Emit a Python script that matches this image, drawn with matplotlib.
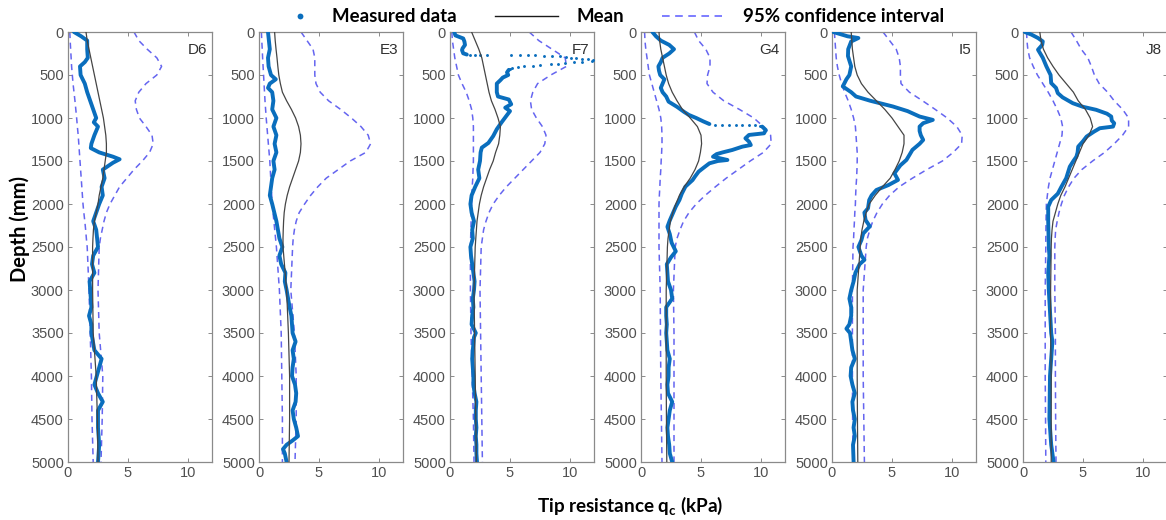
import numpy as np
import matplotlib.pyplot as plt
from matplotlib.lines import Line2D

# depth grid (mm) shared by the mean / confidence curves
CURVE_Z = [0, 100, 200, 300, 400, 500, 600, 700, 800, 900, 1000, 1100, 1200,
           1300, 1400, 1500, 1600, 1700, 1800, 1900, 2000, 2100, 2200, 2300,
           2400, 2500, 3000, 3500, 4000, 4500, 5000]

PANELS = ["D6", "E3", "F7", "G4", "I5", "J8"]

# ---- D6 ----
D6_MEAN = [1.5, 1.6, 1.75, 1.9, 2.05, 2.2, 2.35, 2.5, 2.65, 2.8, 2.95, 3.05, 3.15,
           3.2, 3.2, 3.1, 3.0, 2.9, 2.75, 2.6, 2.5, 2.35, 2.2, 2.12, 2.08, 2.05,
           2.05, 2.1, 2.35, 2.45, 2.5]
D6_LO = [0.15, 0.18, 0.22, 0.26, 0.3, 0.36, 0.42, 0.5, 0.58, 0.65, 0.72, 0.78, 0.85,
         0.9, 0.95, 1.0, 1.05, 1.1, 1.15, 1.2, 1.25, 1.32, 1.4, 1.47, 1.53, 1.6,
         1.75, 1.85, 1.95, 2.0, 2.1]
D6_HI = [5.5, 5.9, 6.6, 7.4, 7.8, 7.4, 6.5, 5.9, 5.6, 5.7, 5.95, 6.5, 7.0,
         7.1, 6.8, 6.2, 5.5, 4.9, 4.3, 3.9, 3.5, 3.2, 3.0, 2.85, 2.7, 2.6,
         2.5, 2.6, 2.9, 2.85, 2.75]
D6_MEAS_Z = [0, 50, 100, 200, 300, 350, 400, 500, 600, 700, 800, 900, 1000, 1050,
             1100, 1200, 1300, 1350, 1400, 1450, 1480, 1520, 1600, 1700, 1800, 1900,
             2000, 2200, 2300, 2500, 2600, 2700, 2800, 2900, 3000, 3200, 3300, 3400,
             3500, 3700, 3800, 3900, 4000, 4100, 4200, 4300, 4400, 4600, 4800, 5000]
D6_MEAS_Q = [0.5, 1.1, 1.6, 1.6, 1.65, 1.4, 1.0, 1.05, 1.4, 1.6, 1.85, 2.1, 2.35, 2.15,
             2.5, 2.2, 1.95, 1.9, 2.6, 3.75, 4.3, 3.75, 2.9, 3.05, 2.8, 2.9,
             2.6, 2.1, 2.35, 2.5, 2.1, 2.0, 2.2, 1.8, 1.85, 1.95, 1.75, 1.95,
             1.95, 2.2, 2.8, 2.6, 2.4, 2.2, 2.5, 2.9, 2.5, 2.5, 2.6, 2.5]

# ---- E3 ----
E3_MEAN = [1.3, 1.35, 1.42, 1.5, 1.57, 1.65, 1.78, 1.95, 2.3, 2.7, 3.05, 3.3, 3.45,
           3.5, 3.45, 3.3, 3.05, 2.8, 2.55, 2.35, 2.2, 2.1, 2.05, 2.02, 2.0, 2.0,
           2.3, 2.45, 2.55, 2.55, 2.5]
E3_LO = [0.2, 0.23, 0.27, 0.3, 0.34, 0.38, 0.42, 0.46, 0.5, 0.55, 0.6, 0.66, 0.72,
         0.78, 0.84, 0.9, 0.94, 0.98, 1.02, 1.06, 1.1, 1.17, 1.24, 1.31, 1.38, 1.45,
         1.7, 1.85, 1.9, 1.95, 1.95]
E3_HI = [3.5, 4.0, 4.5, 4.65, 4.65, 4.65, 4.75, 5.1, 5.8, 6.8, 7.7, 8.5, 9.1,
         9.3, 8.9, 7.6, 6.6, 5.6, 4.9, 4.3, 3.8, 3.35, 3.1, 2.95, 2.85, 2.8,
         2.65, 2.95, 3.1, 3.1, 3.0]
E3_MEAS_Z = [0, 200, 300, 400, 500, 550, 600, 650, 700, 800, 900, 1000, 1100, 1200,
             1300, 1400, 1500, 1600, 1700, 1800, 1900, 2000, 2200, 2400, 2500, 2600,
             2700, 2800, 2900, 3000, 3200, 3300, 3500, 3600, 3700, 3800, 3900, 4000,
             4100, 4200, 4300, 4400, 4500, 4600, 4700, 4750, 4800, 4850, 4900, 5000]
E3_MEAS_Q = [0.75, 0.9, 0.75, 0.8, 1.0, 1.4, 0.9, 0.75, 1.1, 1.2, 1.1, 1.45, 1.2, 1.45,
             1.3, 1.45, 1.2, 1.3, 1.1, 1.0, 0.9, 1.1, 1.45, 1.7, 1.95, 1.7,
             1.85, 2.2, 2.15, 2.3, 2.55, 2.7, 2.8, 3.05, 2.8, 2.9, 2.8, 2.75,
             3.0, 3.1, 3.05, 2.8, 2.9, 3.1, 3.25, 2.8, 2.3, 2.0, 2.15, 2.3]

# ---- F7 ----
F7_MEAN = [1.8, 2.1, 2.4, 2.65, 2.8, 2.95, 3.1, 3.25, 3.45, 3.75, 4.0, 4.2, 4.15,
           4.05, 3.8, 3.6, 3.3, 3.05, 2.8, 2.6, 2.45, 2.35, 2.25, 2.2, 2.15, 2.1,
           2.0, 2.05, 2.1, 2.15, 2.2]
F7_LO = [0.15, 0.2, 0.3, 0.4, 0.55, 0.7, 1.0, 1.35, 1.6, 1.8, 1.9, 1.95, 1.95,
         1.95, 1.95, 1.95, 1.92, 1.9, 1.85, 1.82, 1.8, 1.78, 1.76, 1.74, 1.72, 1.7,
         1.7, 1.75, 1.85, 1.95, 2.0]
F7_HI = [6.6, 7.4, 8.5, 9.6, 9.7, 8.4, 7.3, 6.9, 6.7, 6.8, 7.2, 7.7, 8.0,
         7.9, 7.5, 6.8, 6.1, 5.4, 4.7, 4.1, 3.6, 3.25, 3.0, 2.8, 2.7, 2.6,
         2.5, 2.55, 2.6, 2.65, 2.7]
F7_MEAS_Z = [0, 40, 75, 110, 150, 190, 210, 248, 262, np.nan,
             440, 470, 500, 530, 560, 600, 650, 700, 750, 785, 840, 880, 920, 975,
             1050, 1130, 1210, 1290, 1345, 1400, 1500, 1600, 1700, 1800, 1900, 2000,
             2100, 2200, 2300, 2400, 2500, 2600, 2700, 2800, 2900, 3000, 3100, 3200,
             3300, 3400, 3500, 3550, 3700, 3800, 3900, 4000, 4100, 4200, 4300, 4400,
             4500, 4600, 4700, 4800, 4900, 5000]
F7_MEAS_Q = [0.35, 0.45, 1.1, 1.2, 1.25, 1.05, 1.0, 1.1, 1.4, np.nan,
             4.9, 4.75, 4.85, 4.4, 4.2, 3.9, 3.9, 3.9, 4.0, 4.9, 5.1, 4.6, 5.0, 4.7,
             4.3, 3.9, 3.6, 3.2, 2.65, 2.55, 2.5, 2.35, 2.45, 2.1, 1.8, 1.7,
             1.8, 2.0, 1.85, 1.9, 1.7, 1.75, 1.85, 1.95, 2.05, 2.0, 1.9, 1.95,
             1.85, 1.8, 2.15, 2.0, 1.9, 1.85, 1.9, 1.95, 1.95, 2.05, 2.2, 2.15,
             2.15, 2.2, 2.15, 2.2, 2.2, 2.25]
# sparse readings where the cone resistance jumped off scale
F7_DOT_Z = [266, 266, 267, 267, 270, 271, 272, 273, 275, 278, 282, 290, 300, 305,
            310, 318, 325, 340, 345, 352, 360, 368, 375, 385, 392, 400, 410, 420, 430]
F7_DOT_Q = [1.7, 2.1, 2.5, 3.05, 5.1, 5.8, 6.5, 7.1, 7.8, 8.5, 9.2, 9.7, 10.1, 10.5,
            11.0, 11.5, 11.9, 11.8, 11.0, 10.3, 9.6, 9.0, 8.4, 7.5, 6.9, 6.2, 5.7, 5.2, 5.0]

# ---- G4 ----
G4_MEAN = [1.5, 1.55, 1.65, 1.8, 1.95, 2.1, 2.3, 2.6, 3.0, 3.45, 4.1, 4.7, 5.0,
           5.05, 4.95, 4.8, 4.5, 4.1, 3.6, 3.2, 2.9, 2.65, 2.45, 2.35, 2.25, 2.2,
           2.1, 2.1, 2.1, 2.12, 2.15]
G4_LO = [0.3, 0.33, 0.4, 0.5, 0.6, 0.7, 0.9, 1.1, 1.3, 1.5, 1.65, 1.72, 1.75,
         1.75, 1.72, 1.68, 1.65, 1.6, 1.57, 1.53, 1.5, 1.5, 1.5, 1.5, 1.5, 1.5,
         1.6, 1.62, 1.65, 1.7, 1.75]
G4_HI = [4.45, 4.8, 5.4, 5.75, 5.75, 5.55, 5.5, 6.0, 6.9, 8.2, 9.4, 10.2, 10.8,
         10.85, 10.2, 9.1, 8.1, 7.1, 6.2, 5.35, 4.6, 4.0, 3.55, 3.25, 3.0, 2.85,
         2.7, 2.75, 2.75, 2.75, 2.75]
G4_MEAS_Z = [0, 50, 100, 150, 200, 250, 300, 350, 400, 450, 500, 550, 600, 650,
             700, 750, 810, 870, 930, 965, 1000, 1040, 1070, np.nan,
             1100, 1140, 1178, 1197, 1236, 1275, 1314, 1333, 1372, 1400, 1420, 1450,
             1488, 1500, 1527, 1580, 1624, 1680, 1721, 1798, 1880, 1954, 2030, 2110,
             2190, 2265, 2350, 2450, 2550, 2620, 2700, 2800, 2900, 3000, 3100, 3200,
             3300, 3400, 3500, 3600, 3700, 3800, 3900, 4000, 4100, 4200, 4300, 4400,
             4500, 4600, 4700, 4800, 4900, 5000]
G4_MEAS_Q = [0.95, 1.25, 1.65, 2.35, 2.75, 2.35, 1.8, 1.65, 1.45, 1.5, 1.6, 1.95, 1.8, 1.65,
             1.8, 2.1, 2.3, 3.0, 3.6, 4.0, 4.6, 5.2, 5.7, np.nan,
             10.1, 10.4, 10.25, 9.0, 8.7, 9.0, 9.15, 8.45, 7.6, 6.8, 6.3, 6.0,
             7.2, 6.4, 5.7, 5.2, 4.8, 4.5, 4.3, 3.7, 3.4, 3.2, 2.9, 2.65,
             2.4, 2.2, 2.4, 2.55, 2.9, 2.5, 2.15, 2.2, 2.25, 2.5, 2.6, 2.1,
             2.1, 2.15, 2.1, 2.15, 2.2, 2.4, 2.3, 2.3, 2.2, 2.25, 2.6, 2.4,
             2.3, 2.2, 2.25, 2.35, 2.4, 2.6]
G4_DOT_Z = [1078, 1080, 1081, 1082, 1083, 1085, 1087, 1090]
G4_DOT_Q = [6.2, 6.75, 7.3, 7.9, 8.4, 9.0, 9.5, 9.9]

# ---- I5 ----
I5_MEAN = [1.6, 1.65, 1.7, 1.8, 1.9, 2.1, 2.45, 3.0, 3.7, 4.4, 5.0, 5.5, 6.0,
           6.0, 5.85, 5.6, 5.25, 4.85, 4.2, 3.6, 3.1, 2.85, 2.65, 2.5, 2.4, 2.35,
           2.1, 2.1, 2.1, 2.12, 2.15]
I5_LO = [0.2, 0.25, 0.3, 0.35, 0.45, 0.6, 0.8, 1.05, 1.35, 1.6, 1.8, 1.95, 2.0,
         2.05, 2.1, 2.1, 2.08, 2.05, 2.0, 1.97, 1.95, 1.9, 1.87, 1.83, 1.8, 1.75,
         1.7, 1.7, 1.7, 1.72, 1.75]
I5_HI = [4.25, 4.8, 5.35, 5.6, 5.7, 5.7, 5.75, 6.45, 7.55, 8.6, 9.6, 10.4, 10.85,
         10.8, 10.1, 9.2, 7.9, 6.7, 5.6, 4.8, 4.2, 3.75, 3.4, 3.15, 2.95, 2.85,
         2.6, 2.6, 2.6, 2.65, 2.7]
I5_MEAS_Z = [0, 50, 70, 110, 200, 280, 400, 500, 550, 633, 700, 750, 800, 866, 920,
             983, 1022, 1060, 1100, 1150, 1200, 1255, 1300, 1371, 1430, 1488, 1550,
             1643, 1720, 1780, 1837, 1900, 1954, 2050, 2100, 2187, 2260, 2343, 2420,
             2500, 2600, 2650, 2700, 2800, 2900, 3000, 3100, 3200, 3300, 3400, 3450,
             3500, 3600, 3700, 3800, 3900, 4000, 4100, 4200, 4300, 4400, 4500, 4600,
             4700, 4800, 5000]
I5_MEAS_Q = [0.1, 1.3, 2.2, 1.6, 1.35, 1.33, 1.6, 1.45, 1.2, 0.9, 1.6, 2.0, 3.2, 5.07, 6.3,
             7.3, 8.4, 7.6, 7.3, 7.3, 7.4, 7.6, 7.3, 6.7, 6.45, 6.2, 5.7,
             5.2, 5.5, 4.7, 3.7, 3.3, 3.1, 3.0, 2.7, 2.8, 3.15, 2.6, 2.45,
             2.2, 2.45, 2.7, 2.3, 1.95, 1.8, 1.6, 1.45, 1.6, 1.6, 1.45, 1.2,
             1.5, 1.6, 1.7, 1.9, 1.6, 1.55, 1.7, 1.9, 1.7, 1.75, 1.9, 1.8,
             1.9, 1.75, 1.8]

# ---- J8 ----
J8_MEAN = [1.4, 1.5, 1.7, 2.05, 2.5, 3.0, 3.6, 4.2, 4.6, 5.2, 5.6, 5.8, 5.5,
           5.0, 4.7, 4.4, 4.1, 3.8, 3.5, 3.15, 2.9, 2.7, 2.5, 2.42, 2.37, 2.35,
           2.3, 2.3, 2.35, 2.35, 2.35]
J8_LO = [0.3, 0.33, 0.4, 0.55, 0.85, 1.2, 1.65, 2.1, 2.5, 2.85, 3.15, 3.3, 3.25,
         3.05, 2.85, 2.65, 2.45, 2.25, 2.12, 2.03, 1.95, 1.93, 1.92, 1.91, 1.9, 1.9,
         1.85, 1.85, 1.85, 1.88, 1.9]
J8_HI = [4.0, 4.45, 4.85, 5.4, 5.7, 5.95, 6.35, 7.05, 7.6, 8.3, 8.8, 8.8, 8.3,
         7.6, 6.8, 5.8, 4.9, 4.25, 3.8, 3.45, 3.2, 3.0, 2.85, 2.72, 2.68, 2.65,
         2.65, 2.7, 2.7, 2.72, 2.75]
J8_MEAS_Z = [0, 30, 70, 110, 150, 206, 300, 400, 500, 594, 650, 711, 760, 828, 870,
             905, 950, 983, 1030, 1061, 1100, 1119, 1160, 1216, 1270, 1333, 1400,
             1450, 1500, 1566, 1700, 1800, 1880, 1954, 2032, 2100, 2200, 2500, 2600,
             2800, 3000, 3500, 3600, 4000, 4500, 4800, 5000]
J8_MEAS_Q = [0.15, 0.7, 1.25, 1.65, 1.6, 1.25, 1.65, 1.95, 2.3, 2.35, 2.75, 2.9, 3.3, 4.15, 5.0,
             6.1, 7.0, 7.35, 7.4, 7.6, 7.5, 6.4, 5.9, 5.3, 5.0, 4.6, 4.55,
             4.45, 4.2, 3.9, 3.6, 3.2, 2.9, 2.35, 2.1, 2.1, 2.1, 2.15, 2.2,
             2.1, 2.15, 2.35, 2.45, 2.25, 2.2, 2.35, 2.55]

MEAN = [D6_MEAN, E3_MEAN, F7_MEAN, G4_MEAN, I5_MEAN, J8_MEAN]
LOWER = [D6_LO, E3_LO, F7_LO, G4_LO, I5_LO, J8_LO]
UPPER = [D6_HI, E3_HI, F7_HI, G4_HI, I5_HI, J8_HI]
MEAS_Z = [D6_MEAS_Z, E3_MEAS_Z, F7_MEAS_Z, G4_MEAS_Z, I5_MEAS_Z, J8_MEAS_Z]
MEAS_Q = [D6_MEAS_Q, E3_MEAS_Q, F7_MEAS_Q, G4_MEAS_Q, I5_MEAS_Q, J8_MEAS_Q]
DOTS = {"F7": (F7_DOT_Z, F7_DOT_Q), "G4": (G4_DOT_Z, G4_DOT_Q)}

LEGEND_LABELS = ["Measured data", "Mean", "95% confidence interval"]

# styles
C_MEAS = "#0a6ebd"
C_MEAN = "#454545"
C_CI = "#6565f0"
C_AXIS = "#8a8a8a"
C_TICK = "#505050"

plt.rcParams["font.family"] = ["Liberation Sans", "DejaVu Sans"]
LABEL_FONT = ["Lato", "DejaVu Sans"]

W, H = 1166, 520
fig = plt.figure(figsize=(W / 100, H / 100), dpi=100)

ax_left0, ax_step, ax_w = 68, 191, 144
ax_top, ax_bot = 32, 462

for i, name in enumerate(PANELS):
    left = ax_left0 + i * ax_step
    ax = fig.add_axes([left / W, 1 - ax_bot / H, ax_w / W, (ax_bot - ax_top) / H])

    ax.plot(LOWER[i], CURVE_Z, color=C_CI, lw=1.1, dashes=(4, 3), zorder=2)
    ax.plot(UPPER[i], CURVE_Z, color=C_CI, lw=1.1, dashes=(4, 3), zorder=2)
    ax.plot(MEAS_Q[i], MEAS_Z[i], color=C_MEAS, lw=2.8, solid_joinstyle="round",
            solid_capstyle="round", zorder=3)
    if name in DOTS:
        dz, dq = DOTS[name]
        ax.plot(dq, dz, ls="none", marker="o", ms=2.1, mew=0, color=C_MEAS, zorder=3)
    ax.plot(MEAN[i], CURVE_Z, color=C_MEAN, lw=0.9, zorder=4)

    ax.set_xlim(0, 12)
    ax.set_ylim(5000, 0)
    ax.set_xticks([0, 5, 10])
    ax.set_yticks(np.arange(0, 5001, 500))
    ax.tick_params(direction="in", length=3, width=0.7, color=C_AXIS,
                   labelcolor=C_TICK, labelsize=10.5, top=True, right=True, pad=3)
    for sp in ax.spines.values():
        sp.set_color(C_AXIS)
        sp.set_linewidth(0.9)
    ax.text(0.965, 0.975, name, transform=ax.transAxes, ha="right", va="top",
            fontsize=11, color="#303030", family="Liberation Sans")

# legend row across the top, laid out in pixel positions
def fx(px):
    return px / W

leg_y = 1 - 16 / H
leg_font = dict(family=LABEL_FONT, weight="bold", fontsize=13.4, va="center", ha="left")
fig.add_artist(Line2D([fx(300)], [leg_y], ls="none", marker="o", ms=4.2, mew=0,
                      color=C_MEAS, transform=fig.transFigure))
fig.text(fx(332), leg_y, LEGEND_LABELS[0], **leg_font)
fig.add_artist(Line2D([fx(495), fx(558)], [leg_y, leg_y], color="#1a1a1a", lw=1.0,
                      transform=fig.transFigure))
fig.text(fx(577), leg_y, LEGEND_LABELS[1], **leg_font)
fig.add_artist(Line2D([fx(662), fx(722)], [leg_y, leg_y], color="#5a5aff", lw=1.1,
                      dashes=(5, 3.6), transform=fig.transFigure))
fig.text(fx(743), leg_y, LEGEND_LABELS[2], **leg_font)

fig.text(fx(20), 1 - 229 / H, "Depth (mm)", rotation=90, ha="center", va="center",
         family=LABEL_FONT, weight="bold", fontsize=14.5)
fig.text(fx(630), 1 - 506 / H, r"Tip resistance q$_\mathregular{c}$ (kPa)",
         ha="center", va="center", family=LABEL_FONT, weight="bold", fontsize=13.6)

fig.savefig("out.png", dpi=100)
